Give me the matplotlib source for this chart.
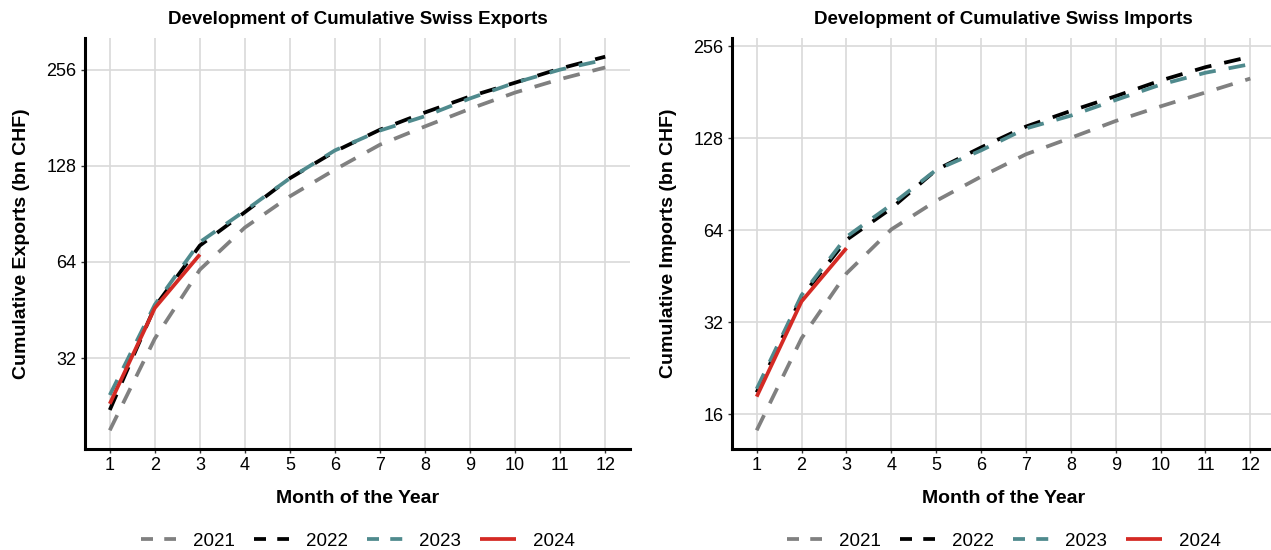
import matplotlib
matplotlib.use('Agg')
import matplotlib.pyplot as plt
import numpy as np

plt.rcParams['font.family'] = ['Liberation Sans', 'DejaVu Sans']

months = list(range(1, 13))
years = ['2021', '2022', '2023', '2024']

# cumulative exports (bn CHF)
exports_2021 = [19.0, 36.8, 60.5, 82.0, 102.7, 124.5, 149.0, 170.0, 193.0, 217.0, 239.0, 260.0]
exports_2022 = [22.0, 46.3, 72.0, 91.6, 117.0, 142.0, 166.0, 188.0, 211.0, 233.0, 258.0, 281.0]
exports_2023 = [24.5, 47.0, 73.8, 92.5, 117.0, 143.0, 165.0, 183.0, 208.0, 233.0, 256.0, 275.0]
exports_2024 = [23.0, 45.9, 67.5]

# cumulative imports (bn CHF)
imports_2021 = [14.2, 28.4, 46.3, 64.5, 80.0, 96.0, 113.6, 128.6, 146.0, 163.0, 181.0, 201.0]
imports_2022 = [18.9, 38.8, 59.6, 75.6, 101.0, 119.6, 140.0, 157.5, 176.0, 198.0, 219.0, 237.0]
imports_2023 = [19.4, 39.3, 61.0, 77.7, 101.0, 117.0, 138.0, 152.0, 171.0, 192.0, 210.0, 224.0]
imports_2024 = [18.3, 37.5, 56.0]

colors = ['#808080', '#000000', '#4F8A8D', '#D42A24']
dash = (4.5, 3.5)


def draw_panel(ax, series, title, ylabel, yticks):
    for i, (yr, vals) in enumerate(zip(years, series)):
        x = months[:len(vals)]
        if yr == '2024':
            ax.plot(x, vals, color=colors[i], lw=2.7, label=yr, solid_capstyle='butt')
        else:
            ax.plot(x, vals, color=colors[i], lw=2.7, label=yr, dashes=dash)
    ax.set_yscale('log', base=2)
    allv = np.log2(np.concatenate([np.array(s, dtype=float) for s in series]))
    lo, hi = allv.min(), allv.max()
    pad = (hi - lo) * 0.05
    ax.set_ylim(2 ** (lo - pad), 2 ** (hi + pad))
    ax.set_xlim(0.45, 12.55)
    ax.set_xticks(months)
    ax.set_xticklabels([str(m) for m in months])
    ax.set_yticks(yticks)
    ax.set_yticklabels([str(t) for t in yticks])
    ax.yaxis.set_minor_locator(matplotlib.ticker.NullLocator())
    ax.grid(True, color='#d9d9d9', lw=1.2)
    ax.set_axisbelow(True)
    for s in ['top', 'right']:
        ax.spines[s].set_visible(False)
    for s in ['left', 'bottom']:
        ax.spines[s].set_linewidth(2.2)
        ax.spines[s].set_color('black')
    ax.tick_params(axis='both', labelsize=13, length=3, width=1, color='#333333',
                   labelcolor='black', pad=3)
    ax.set_title(title, fontsize=13.5, fontweight='bold', pad=10)
    ax.set_xlabel('Month of the Year', fontsize=14, fontweight='bold', labelpad=11)
    ax.set_ylabel(ylabel, fontsize=14, fontweight='bold', labelpad=12)
    leg = ax.legend(loc='center', bbox_to_anchor=(0.5, -0.225), ncol=4, frameon=False,
                    fontsize=13.5, handlelength=1.9, columnspacing=1.0, handletextpad=0.9)
    for h in leg.get_lines()[:3]:
        h.set_dashes((3.2, 3.0))


fig = plt.figure(figsize=(12.71, 5.5), dpi=100)
ax1 = fig.add_axes([85 / 1271, 101 / 550, 545 / 1271, 411 / 550])
ax2 = fig.add_axes([732 / 1271, 101 / 550, 543 / 1271, 411 / 550])

draw_panel(ax1, [exports_2021, exports_2022, exports_2023, exports_2024],
           'Development of Cumulative Swiss Exports', 'Cumulative Exports (bn CHF)',
           [32, 64, 128, 256])
draw_panel(ax2, [imports_2021, imports_2022, imports_2023, imports_2024],
           'Development of Cumulative Swiss Imports', 'Cumulative Imports (bn CHF)',
           [16, 32, 64, 128, 256])

fig.savefig('out.png', dpi=100)
